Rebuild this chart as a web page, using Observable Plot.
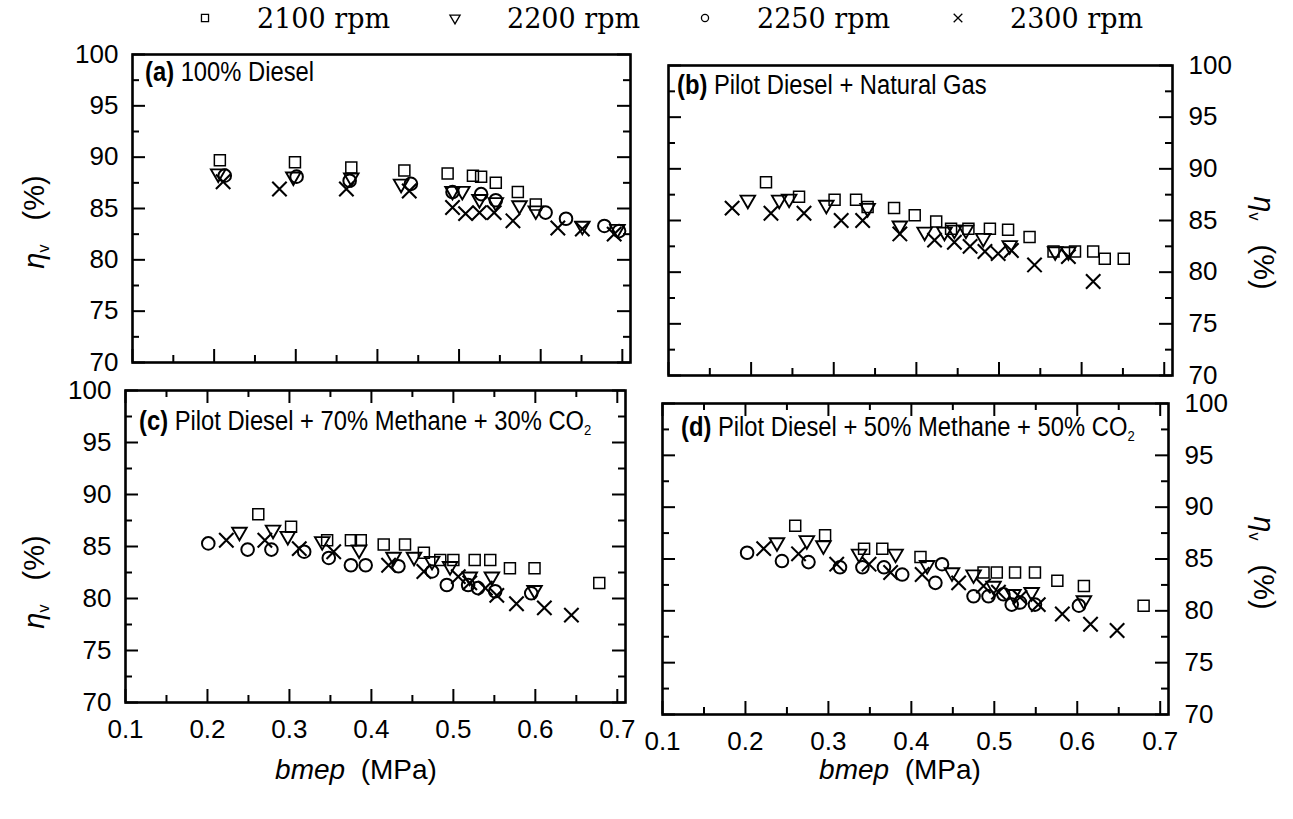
<!DOCTYPE html>
<html><head><meta charset="utf-8">
<script src="https://cdn.jsdelivr.net/npm/d3@7"></script>
<script src="https://cdn.jsdelivr.net/npm/@observablehq/plot@0.6"></script>
<style>
html,body{margin:0;padding:0;background:#fff;}
#root{position:relative;width:1293px;height:819px;overflow:hidden;background:#fff;font-family:"Liberation Sans",Arial,sans-serif;color:#000}
.abs{position:absolute;white-space:nowrap;line-height:1}
.ptitle{font-family:"Liberation Sans",Arial,sans-serif;font-size:27px;transform:translateY(-50%) scaleX(0.88);transform-origin:0 50%}
.ptitle sub{font-size:0.55em;vertical-align:-0.35em}
.leg{font-family:"DejaVu Serif",serif;font-size:27px;transform:translateY(-50%)}
.ytitle{font-size:29px;transform:translate(-50%,-50%) rotate(-90deg)}
.ytitle.r{transform:translate(-50%,-50%) rotate(90deg)}
.ytitle sub{font-size:0.55em;vertical-align:-0.3em}
.xtitle{font-size:28px;transform:translate(-50%,-50%)}
</style></head><body><div id="root"></div>
<script>
// ---------- data: [bmep (MPa), volumetric efficiency (%)] ----------
const rpms = ["2100 rpm", "2200 rpm", "2250 rpm", "2300 rpm"];
const panelTitles = ["100% Diesel", "Pilot Diesel + Natural Gas", "Pilot Diesel + 70% Methane + 30% CO", "Pilot Diesel + 50% Methane + 50% CO"];
const xTickLabels = [0.1, 0.2, 0.3, 0.4, 0.5, 0.6, 0.7];
const yTickLabels = [70, 75, 80, 85, 90, 95, 100];

const a2100 = [[0.207,89.7],[0.299,89.5],[0.368,89.0],[0.433,88.7],[0.486,88.4],[0.517,88.2],[0.527,88.1],[0.545,87.5],[0.572,86.6],[0.594,85.4]];
const a2200 = [[0.205,88.4],[0.297,88.1],[0.368,88.0],[0.429,87.4],[0.492,86.7],[0.504,86.7],[0.525,85.9],[0.545,85.6],[0.574,85.3],[0.594,84.8],[0.651,83.3],[0.694,83.0]];
const a2250 = [[0.213,88.2],[0.301,88.1],[0.366,87.7],[0.441,87.4],[0.492,86.6],[0.527,86.4],[0.545,85.8],[0.606,84.6],[0.631,84.0],[0.678,83.3],[0.696,82.8]];
const a2300 = [[0.211,87.6],[0.280,86.9],[0.362,86.9],[0.439,86.7],[0.492,85.1],[0.508,84.5],[0.525,84.6],[0.543,84.6],[0.566,83.8],[0.621,83.1],[0.651,83.0],[0.690,82.5]];

const b2100 = [[0.218,88.7],[0.258,87.3],[0.301,87.0],[0.327,87.0],[0.341,86.3],[0.373,86.2],[0.398,85.5],[0.424,84.9],[0.442,84.2],[0.463,84.2],[0.489,84.2],[0.511,84.1],[0.537,83.4],[0.566,82.0],[0.592,82.0],[0.614,82.0],[0.628,81.3],[0.651,81.3]];
const b2200 = [[0.196,87.0],[0.234,87.0],[0.246,87.1],[0.291,86.5],[0.341,86.2],[0.380,84.5],[0.410,83.9],[0.434,83.9],[0.446,84.1],[0.460,84.1],[0.481,83.3],[0.513,82.6],[0.568,82.0],[0.584,82.0]];
const b2250 = [];
const b2300 = [[0.177,86.2],[0.224,85.7],[0.264,85.7],[0.309,85.0],[0.335,85.0],[0.380,83.7],[0.422,83.1],[0.446,82.9],[0.465,82.5],[0.483,82.0],[0.499,81.8],[0.515,82.1],[0.543,80.7],[0.584,81.5],[0.614,79.1]];

const c2100 = [[0.262,88.1],[0.302,86.9],[0.346,85.6],[0.375,85.6],[0.387,85.6],[0.415,85.2],[0.441,85.2],[0.464,84.4],[0.484,83.7],[0.500,83.7],[0.526,83.7],[0.545,83.7],[0.569,82.9],[0.599,82.9],[0.678,81.5]];
const c2200 = [[0.239,86.4],[0.280,86.6],[0.298,86.0],[0.340,85.5],[0.385,84.7],[0.427,84.0],[0.452,84.0],[0.474,83.6],[0.496,83.1],[0.520,82.1],[0.547,82.1],[0.599,80.8]];
const c2250 = [[0.201,85.3],[0.249,84.7],[0.278,84.7],[0.318,84.5],[0.348,83.9],[0.375,83.2],[0.393,83.2],[0.433,83.1],[0.474,82.6],[0.492,81.3],[0.518,81.3],[0.530,81.0],[0.551,80.7],[0.595,80.5]];
const c2300 = [[0.223,85.6],[0.270,85.6],[0.312,84.8],[0.354,84.5],[0.421,83.2],[0.464,82.6],[0.506,82.1],[0.520,81.5],[0.539,81.0],[0.553,80.3],[0.577,79.5],[0.611,79.1],[0.644,78.4]];

const d2100 = [[0.260,88.2],[0.296,87.3],[0.343,86.0],[0.365,86.0],[0.411,85.2],[0.487,83.7],[0.503,83.7],[0.525,83.7],[0.549,83.7],[0.576,82.9],[0.608,82.4],[0.680,80.5]];
const d2200 = [[0.238,86.6],[0.274,86.8],[0.294,86.3],[0.337,85.5],[0.381,85.5],[0.419,84.4],[0.449,83.7],[0.475,83.5],[0.499,82.4],[0.523,81.6],[0.545,81.8],[0.608,81.0]];
const d2250 = [[0.202,85.6],[0.244,84.8],[0.276,84.7],[0.314,84.2],[0.341,84.2],[0.367,84.2],[0.389,83.5],[0.429,82.7],[0.437,84.5],[0.475,81.4],[0.493,81.4],[0.511,81.6],[0.521,80.6],[0.531,80.8],[0.549,80.6],[0.602,80.5]];
const d2300 = [[0.222,86.0],[0.264,85.5],[0.310,84.5],[0.349,84.5],[0.375,83.7],[0.413,83.5],[0.457,82.7],[0.487,82.4],[0.505,81.8],[0.531,81.3],[0.553,80.6],[0.582,79.7],[0.616,78.7],[0.648,78.1]];

const panelSeries = [
  [a2100, a2200, a2250, a2300],
  [b2100, b2200, b2250, b2300],
  [c2100, c2200, c2250, c2300],
  [d2100, d2200, d2250, d2300]
];

// ---------- styling / layout ----------
const root = document.getElementById("root");
const symStyle = [
  {symbol: "square", r: 6.2, strokeWidth: 1.5, rotate: 0},
  {symbol: "triangle", r: 5.4, strokeWidth: 1.9, rotate: 180},
  {symbol: "circle", r: 6.3, strokeWidth: 2, rotate: 0},
  {symbol: "times", r: 6.6, strokeWidth: 2.1, rotate: 0}
];
const geom = [
  {L: 132, R: 630, T: 54, B: 362, right: false, xLabels: false, topTicks: false, letter: "a", tx: 145, ty: 72},
  {L: 668, R: 1172, T: 65, B: 375, right: true, xLabels: false, topTicks: false, letter: "b", tx: 677, ty: 85},
  {L: 125, R: 625, T: 390, B: 702, right: false, xLabels: true, topTicks: true, letter: "c", tx: 139, ty: 423},
  {L: 662, R: 1168, T: 403, B: 714, right: true, xLabels: true, topTicks: true, letter: "d", tx: 681, ty: 429}
];
const xMajor = d3.range(1, 8).map(i => i / 10);
const xMinor = d3.range(1, 7).map(i => i / 10 + 0.05);
const yMajor = d3.range(70, 101, 5);
const yMinor = d3.range(72.5, 100, 5);
const MAJ = 13, MIN = 7;

geom.forEach((g, p) => {
  const W = g.R - g.L, H = g.B - g.T;
  const m = {top: 18, bottom: g.xLabels ? 52 : 6, left: g.right ? 6 : 72, right: g.right ? 72 : 6};
  const rows = [];
  panelSeries[p].forEach((s, k) => s.forEach(([x, y]) => rows.push({x, y, k})));
  const marks = [
    Plot.ruleX(xMajor, {insetTop: H - MAJ, stroke: "black", strokeWidth: 2}),
    Plot.ruleX(xMinor, {insetTop: H - MIN, stroke: "black", strokeWidth: 2}),
    Plot.ruleY(yMajor, {insetRight: W - MAJ, stroke: "black", strokeWidth: 2}),
    Plot.ruleY(yMinor, {insetRight: W - MIN, stroke: "black", strokeWidth: 2}),
    Plot.ruleY(yMajor, {insetLeft: W - MAJ, stroke: "black", strokeWidth: 2}),
    Plot.ruleY(yMinor, {insetLeft: W - MIN, stroke: "black", strokeWidth: 2})
  ];
  if (g.topTicks) {
    marks.push(Plot.ruleX(xMajor, {insetBottom: H - MAJ, stroke: "black", strokeWidth: 2}));
    marks.push(Plot.ruleX(xMinor, {insetBottom: H - MIN, stroke: "black", strokeWidth: 2}));
  }
  marks.push(Plot.frame({stroke: "black", strokeWidth: 2.6}));
  symStyle.forEach((st, k) => {
    marks.push(Plot.dot(rows.filter(d => d.k === k), {
      x: "x", y: "y", symbol: st.symbol, r: st.r, rotate: st.rotate,
      stroke: "black", fill: "none", strokeWidth: st.strokeWidth
    }));
  });
  const chart = Plot.plot({
    width: W + m.left + m.right, height: H + m.top + m.bottom,
    marginTop: m.top, marginBottom: m.bottom, marginLeft: m.left, marginRight: m.right,
    x: {domain: [0.1, 0.71], axis: g.xLabels ? "bottom" : null, ticks: xTickLabels,
        tickFormat: d3.format(".1f"), tickSize: 0, tickPadding: 17, label: null},
    y: {domain: [70, 100], axis: g.right ? "right" : "left", ticks: yTickLabels,
        tickSize: 0, tickPadding: g.right ? 16 : 14, label: null},
    style: {fontFamily: "Liberation Sans, Arial, sans-serif", fontSize: "26px", color: "black",
            background: "transparent", overflow: "visible"},
    marks
  });
  chart.style.position = "absolute";
  chart.style.left = (g.L - m.left) + "px";
  chart.style.top = (g.T - m.top) + "px";
  chart.style.maxWidth = "none";
  root.appendChild(chart);

  const t = document.createElement("div");
  t.className = "abs ptitle";
  t.style.left = g.tx + "px"; t.style.top = g.ty + "px";
  t.innerHTML = `<b>(${g.letter})</b> ${panelTitles[p]}` + (p >= 2 ? "<sub>2</sub>" : "");
  root.appendChild(t);
});

// axis titles
function addDiv(cls, x, y, html) {
  const e = document.createElement("div");
  e.className = "abs " + cls;
  e.style.left = x + "px"; e.style.top = y + "px";
  e.innerHTML = html;
  root.appendChild(e);
}
const etaHtml = `<i>η</i><sub>v</sub>&nbsp;&nbsp;&nbsp;(%)`;
addDiv("ytitle", 36, 222, etaHtml);
addDiv("ytitle", 36, 582, etaHtml);
addDiv("ytitle r", 1262, 243, etaHtml);
addDiv("ytitle r", 1262, 563, etaHtml);
addDiv("xtitle", 356, 770, `<i>bmep</i>&nbsp;&nbsp;(MPa)`);
addDiv("xtitle", 900, 770, `<i>bmep</i>&nbsp;&nbsp;(MPa)`);

// legend
const legX = [205, 455, 705, 958];
rpms.forEach((lab, k) => {
  const s = document.createElementNS("http://www.w3.org/2000/svg", "svg");
  s.setAttribute("width", 16); s.setAttribute("height", 16);
  s.style.position = "absolute"; s.style.left = (legX[k] - 8) + "px"; s.style.top = (18 - 8) + "px";
  const sym = [d3.symbolSquare, d3.symbolTriangle, d3.symbolCircle, d3.symbolTimes][k];
  const size = [50, 45, 40, 50][k];
  const path = document.createElementNS("http://www.w3.org/2000/svg", "path");
  path.setAttribute("d", d3.symbol(sym, size)());
  path.setAttribute("transform", `translate(8,8)` + (k === 1 ? " rotate(180)" : ""));
  path.setAttribute("fill", "none"); path.setAttribute("stroke", "black"); path.setAttribute("stroke-width", 1.3);
  s.appendChild(path);
  root.appendChild(s);
  addDiv("leg", legX[k] + 52, 18, lab);
});
</script></body></html>
